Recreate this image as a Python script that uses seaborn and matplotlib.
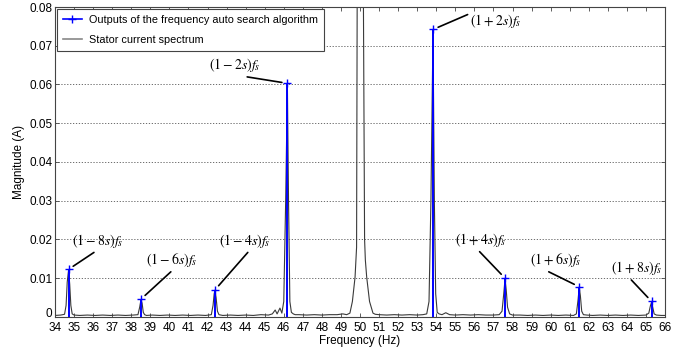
import numpy as np
import pandas as pd
import matplotlib
matplotlib.use('Agg')
import matplotlib.pyplot as plt
import matplotlib.transforms as mtransforms
from matplotlib.lines import Line2D
import seaborn as sns

# Stator current spectrum
spec_freq = [34.00, 34.30, 34.50, 34.58, 34.64, 34.71, 34.77, 34.83, 34.90, 35.00, 35.30, 35.70,
             36.10, 36.50, 36.90, 37.30, 37.70, 38.10, 38.35, 38.44, 38.51, 38.57, 38.63, 38.70,
             38.80, 39.10, 39.50, 39.90, 40.30, 40.70, 41.10, 41.50, 41.90, 42.20, 42.29, 42.35,
             42.39, 42.45, 42.52, 42.60, 42.80, 43.20, 43.60, 44.00, 44.40, 44.80, 45.20, 45.40,
             45.55, 45.65, 45.80, 45.90, 46.00, 46.10, 46.19, 46.25, 46.32, 46.40, 46.50, 46.60,
             46.80, 47.20, 47.60, 48.00, 48.40, 48.80, 49.10, 49.30, 49.47, 49.60, 49.74, 49.82,
             49.86, 50.00, 50.16, 50.24, 50.28, 50.35, 50.50, 50.68, 50.80, 51.00, 51.40, 51.80,
             52.20, 52.60, 53.00, 53.30, 53.50, 53.62, 53.72, 53.83, 53.90, 53.97, 54.05, 54.15,
             54.30, 54.50, 54.70, 55.00, 55.40, 55.80, 56.20, 56.60, 57.00, 57.30, 57.45, 57.54,
             57.61, 57.67, 57.74, 57.85, 58.00, 58.40, 58.80, 59.20, 59.60, 60.00, 60.40, 60.80,
             61.20, 61.35, 61.44, 61.50, 61.56, 61.63, 61.72, 61.90, 62.20, 62.60, 63.00, 63.40,
             63.80, 64.20, 64.60, 65.00, 65.15, 65.24, 65.30, 65.36, 65.43, 65.55, 65.80, 66.00]
spec_mag = [0.0004, 0.0005, 0.0007, 0.0030, 0.0090, 0.0121, 0.0085, 0.0030, 0.0008, 0.0005, 0.0004, 0.0005,
            0.0004, 0.0005, 0.0004, 0.0005, 0.0004, 0.0005, 0.0006, 0.0025, 0.0045, 0.0035, 0.0012, 0.0006,
            0.0004, 0.0005, 0.0004, 0.0005, 0.0004, 0.0005, 0.0004, 0.0005, 0.0004, 0.0006, 0.0030, 0.0060,
            0.0069, 0.0050, 0.0015, 0.0006, 0.0004, 0.0005, 0.0004, 0.0005, 0.0004, 0.0006, 0.0005, 0.0008,
            0.0018, 0.0008, 0.0023, 0.0010, 0.0040, 0.0300, 0.0600, 0.0300, 0.0040, 0.0012, 0.0008, 0.0006,
            0.0006, 0.0005, 0.0006, 0.0005, 0.0006, 0.0006, 0.0008, 0.0006, 0.0010, 0.0040, 0.0103, 0.0180,
            0.1000, 0.2000, 0.1000, 0.0200, 0.0147, 0.0103, 0.0040, 0.0010, 0.0007, 0.0006, 0.0005, 0.0006,
            0.0005, 0.0006, 0.0005, 0.0006, 0.0008, 0.0040, 0.0300, 0.0741, 0.0300, 0.0060, 0.0012, 0.0008,
            0.0006, 0.0011, 0.0006, 0.0005, 0.0006, 0.0005, 0.0006, 0.0005, 0.0005, 0.0006, 0.0015, 0.0060,
            0.0099, 0.0070, 0.0025, 0.0008, 0.0005, 0.0005, 0.0004, 0.0005, 0.0004, 0.0005, 0.0004, 0.0005,
            0.0004, 0.0008, 0.0045, 0.0077, 0.0055, 0.0015, 0.0006, 0.0005, 0.0004, 0.0005, 0.0004, 0.0005,
            0.0004, 0.0005, 0.0004, 0.0005, 0.0010, 0.0030, 0.0039, 0.0025, 0.0008, 0.0005, 0.0004, 0.0004]

# Outputs of the frequency auto search algorithm
peak_freq = [34.71, 38.51, 42.39, 46.19, 53.83, 57.61, 61.50, 65.30]
peak_mag = [0.0123, 0.0046, 0.0070, 0.0603, 0.0742, 0.0100, 0.0078, 0.0040]
peak_labels = [r'$\left(1-8s\right)f_s$', r'$\left(1-6s\right)f_s$', r'$\left(1-4s\right)f_s$',
               r'$\left(1-2s\right)f_s$', r'$\left(1+2s\right)f_s$', r'$\left(1+4s\right)f_s$',
               r'$\left(1+6s\right)f_s$', r'$\left(1+8s\right)f_s$']

# where each label sits, and where its leader line leaves the text
label_x = [36.26, 40.10, 43.97, 43.44, 57.14, 56.35, 60.28, 64.50]
label_y = [0.0197, 0.0147, 0.0197, 0.0650, 0.0765, 0.0199, 0.0147, 0.0126]
label_rel = [(0.5, 0.0), (0.55, 0.0), (0.6, 0.0), (0.4, 0.0), (0.0, 0.9), (0.42, 0.0), (0.25, 0.0), (0.35, 0.0)]

spec = pd.DataFrame({'Frequency': spec_freq, 'Magnitude': spec_mag})

plt.rcParams['font.family'] = ['Liberation Sans', 'DejaVu Sans']
plt.rcParams['mathtext.fontset'] = 'stix'

fig = plt.figure(figsize=(6.93, 3.5), dpi=100)
ax = fig.add_axes([0.0794, 0.0943, 0.8802, 0.8857])

sns.lineplot(data=spec, x='Frequency', y='Magnitude', ax=ax, color='#3a3a3a',
             linewidth=0.8, sort=False, estimator=None)
ax.vlines(peak_freq, 0, peak_mag, color='#0000ff', linewidth=1.4, zorder=3)
ax.plot(peak_freq, peak_mag, linestyle='none', marker='+', color='#0000ff',
        markersize=6, markeredgewidth=1.0, zorder=4)

for lab, px, py, lx, ly, rel in zip(peak_labels, peak_freq, peak_mag, label_x, label_y, label_rel):
    ax.annotate(lab, xy=(px, py), xytext=(lx, ly), ha='center', va='center',
                fontsize=10, color='black', zorder=5,
                arrowprops=dict(arrowstyle='-', color='black', lw=1.2,
                                shrinkA=0, shrinkB=4, relpos=rel))

ax.set_xlim(34, 66)
ax.set_ylim(0, 0.08)
ax.set_xticks(np.arange(34, 67, 1))
ax.set_yticks(np.arange(0, 0.081, 0.01))
ax.set_yticklabels(['0', '0.01', '0.02', '0.03', '0.04', '0.05', '0.06', '0.07', '0.08'])
ax.tick_params(direction='in', top=True, right=True, labelsize=8.5, length=3,
               width=0.6, color='#444444', pad=2)
ax.tick_params(axis='x', pad=3.5)
ax.yaxis.grid(True, linestyle=(0, (1.5, 2)), color='#555555', linewidth=0.6)
ax.set_axisbelow(True)
for s in ax.spines.values():
    s.set_color('#444444')
    s.set_linewidth(0.8)

# lift the "0" a little so it clears the "34" below it
zero_lbl = ax.get_yticklabels()[0]
zero_lbl.set_transform(zero_lbl.get_transform() +
                       mtransforms.ScaledTranslation(0, 3 / 72, fig.dpi_scale_trans))

ax.set_xlabel('Frequency (Hz)', fontsize=8.5, labelpad=1)
ax.set_ylabel('Magnitude (A)', fontsize=8.5, labelpad=3)

handles = [Line2D([], [], color='#0000ff', marker='+', markersize=6, linewidth=1.2),
           Line2D([], [], color='#888888', linewidth=1.2)]
leg = ax.legend(handles, ['Outputs of the frequency auto search algorithm', 'Stator current spectrum'],
                loc='upper left', fontsize=7.8, frameon=True, fancybox=False,
                borderaxespad=0.2, handlelength=1.7, handletextpad=0.7,
                labelspacing=0.9, borderpad=0.55)
leg.get_frame().set_edgecolor('#444444')
leg.get_frame().set_linewidth(0.8)
leg.get_frame().set_alpha(1)

fig.savefig('out.png', dpi=100)
